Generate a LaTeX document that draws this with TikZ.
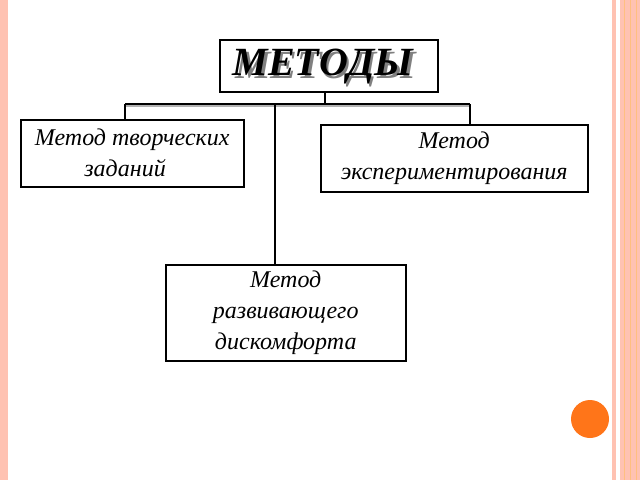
\documentclass[tikz,border=0pt]{standalone}
\usepackage{fontspec}
\setmainfont{Liberation Serif}
\begin{document}
\begin{tikzpicture}[x=1pt,y=-1pt,
  box/.style={draw,line width=1.5pt,fill=white,inner sep=0pt,anchor=north west,align=center,font=\itshape\fontsize{24}{31}\selectfont},
  conn/.style={line width=1.5pt}]
\useasboundingbox (0,0) rectangle (640,480);
\fill[white] (0,0) rectangle (640,480);
\fill[red!60!orange!30] (0,0) rectangle (8,480);
\fill[red!60!orange!30] (612,0) rectangle (616,480);
\fill[red!60!orange!30] (620,0) rectangle (640,480);
\draw[orange!50,line width=0.4pt] (624,0)--(624,480) (630,0)--(630,480) (636,0)--(636,480);
\fill[orange!80!red!90] (590,419) circle (19);
\node[box,minimum width=218pt,minimum height=52pt] (top) at (219,39) {};
\node[font=\bfseries\itshape\fontsize{40}{42}\selectfont] (toptext) at (323,68) {\rlap{\hspace{2.5pt}\raisebox{-2.5pt}{\textcolor{gray}{МЕТОДЫ}}}МЕТОДЫ};
\node[box,minimum width=223pt,minimum height=67pt] (l) at (20,119) {Метод творческих\\заданий\hspace*{0.6em}};
\node[box,minimum width=267pt,minimum height=67pt] (r) at (320,124) {Метод\\экспериментирования};
\node[box,minimum width=240pt,minimum height=96pt] (b) at (165,264) {Метод\\развивающего\\дискомфорта};
\coordinate (j) at (325,104);
\coordinate (jl) at (125,104);
\coordinate (jr) at (470,104);
\coordinate (jm) at (275,104);
\draw[gray!60,line width=1.5pt] ([yshift=-2pt]jl) -- ([yshift=-2pt]jr);
\draw[conn] (top.south -| j) -- (j);
\draw[conn] (jl) -- (jr);
\draw[conn] (jl) -- (jl |- l.north);
\draw[conn] (jr) -- (jr |- r.north);
\draw[conn] (jm) -- (jm |- b.north);
\end{tikzpicture}
\end{document}
